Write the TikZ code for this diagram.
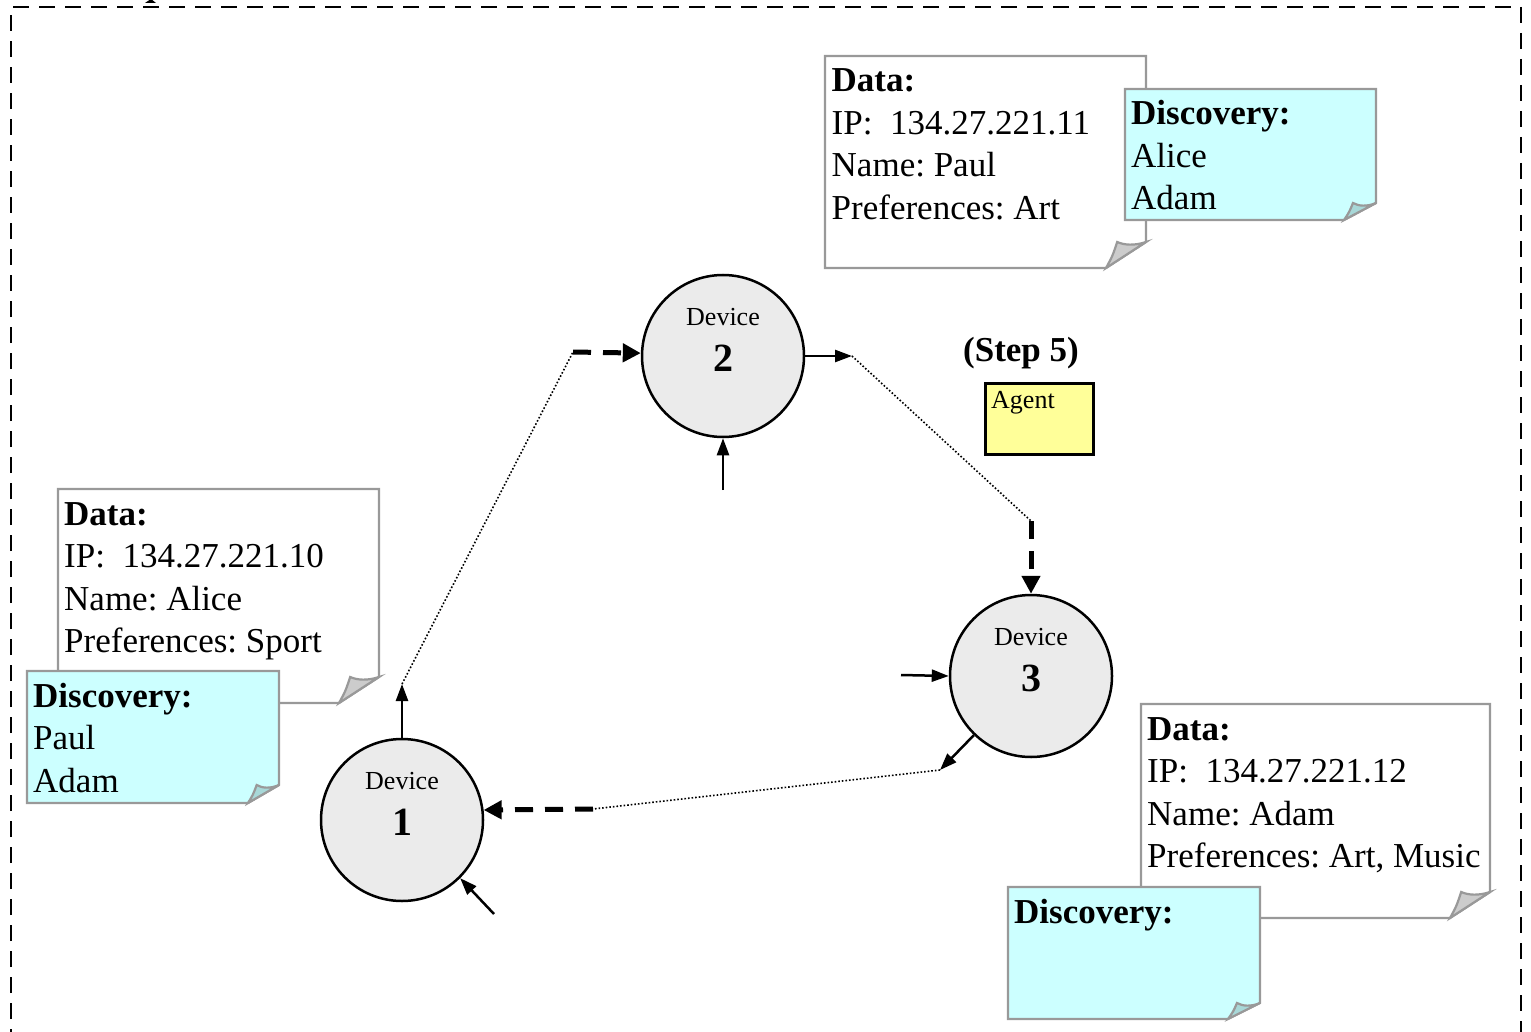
\documentclass[tikz,border=0pt]{standalone}
\usepackage{fontspec}
\setmainfont{Liberation Serif}
\usetikzlibrary{arrows.meta}
\frenchspacing

\definecolor{notecyan}{HTML}{CCFFFF}
\definecolor{foldcyan}{HTML}{A8D8D8}
\definecolor{foldgray}{HTML}{CCCCCC}
\definecolor{noteedge}{HTML}{999999}
\definecolor{devfill}{HTML}{EBEBEB}
\definecolor{agentfill}{HTML}{FFFF99}

% sticky note with a curled lower-right corner
% #1,#2 top-left  #3,#4 bottom-right  #5,#6 corner cut  #7 paper  #8 curl
\newcommand\stickynote[8]{%
  \filldraw[notebody, fill=#7] (#1,#2) -- (#3,#2) -- (#3,#4-#6) -- (#3-#5,#4) -- (#1,#4) -- cycle;
  \filldraw[notebody, fill=#8] (#3,#4-#6)
     .. controls (#3-0.3*#5,#4-#6+4) and (#3-0.55*#5,#4-#6+3) .. (#3-0.72*#5,#4-#6)
     .. controls (#3-0.84*#5,#4-0.45*#6) .. (#3-#5,#4) -- cycle;
}

\tikzset{
  notebody/.style={draw=noteedge, line width=2.2pt, line join=miter},
  device/.style={circle, draw, line width=2.5pt, fill=devfill, minimum size=162pt, inner sep=0pt},
  devword/.style={font=\fontsize{26}{30}\selectfont, anchor=base, inner sep=0pt},
  devnum/.style={font=\bfseries\fontsize{40}{46}\selectfont, anchor=base, inner sep=0pt},
  notetext/.style={font=\fontsize{35}{42}\selectfont, anchor=base west, inner sep=0pt},
  notehead/.style={font=\bfseries\fontsize{35}{42}\selectfont, anchor=base west, inner sep=0pt},
  thinarrow/.style={line width=2.5pt, -{Triangle[length=17pt,width=12pt]}},
  flowarrow/.style={line width=5pt, dash pattern=on 18pt off 12pt, -{Triangle[length=18pt,width=18pt]}},
  hop/.style={line width=1.6pt, dash pattern=on 1.6pt off 2pt},
  frame/.style={line width=2.5pt, dash pattern=on 16pt off 10pt},
  agentbox/.style={draw, line width=2.5pt, fill=agentfill, anchor=north west,
    minimum width=108pt, minimum height=71pt, inner sep=0pt},
}

\begin{document}
\begin{tikzpicture}[x=1pt,y=-1pt]
\useasboundingbox (0,0) rectangle (1531,1032);

% outer dashed frame
\draw[frame] (11,1045) -- (11,7) -- (1521,7) -- (1521,1045);
\fill (145,3) -- (156,3) -- (151,-1) -- cycle;

% notes of device 1
\stickynote{58}{489}{379}{703}{40}{26}{white}{foldgray}
\node[notehead] (c1) at (64,525) {Data:};
\node[notetext] (c2) at (64,567.5) {IP:~ 134.27.221.10};
\node[notetext] (c3) at (64,610) {Name: Alice};
\node[notetext] (c4) at (64,652.5) {Preferences: Sport};
\stickynote{27}{671}{279}{803}{31}{18}{notecyan}{foldcyan}
\node[notehead] (d1) at (33,707) {Discovery:};
\node[notetext] (d2) at (33,749.5) {Paul};
\node[notetext] (d3) at (33,792) {Adam};

% notes of device 2
\stickynote{825}{56}{1146}{268}{40}{26}{white}{foldgray}
\node[notehead] (a1) at (831.5,92) {Data:};
\node[notetext] (a2) at (831.5,134.5) {IP:~ 134.27.221.11};
\node[notetext] (a3) at (831.5,177) {Name: Paul};
\node[notetext] (a4) at (831.5,219.5) {Preferences: Art};
\stickynote{1125}{89}{1376}{220}{32}{17}{notecyan}{foldcyan}
\node[notehead] (b1) at (1131,125) {Discovery:};
\node[notetext] (b2) at (1131,167.5) {Alice};
\node[notetext] (b3) at (1131,210) {Adam};

% notes of device 3
\stickynote{1141}{704}{1490}{918}{40}{26}{white}{foldgray}
\node[notehead] (e1) at (1147,740) {Data:};
\node[notetext] (e2) at (1147,782.5) {IP:~ 134.27.221.12};
\node[notetext] (e3) at (1147,825) {Name: Adam};
\node[notetext] (e4) at (1147,867.5) {Preferences: Art, Music};
\stickynote{1008}{887}{1260}{1019}{32}{16}{notecyan}{foldcyan}
\node[notehead] (f1) at (1014,923) {Discovery:};

% devices
\node[device] (dev1) at (402,820) {};
\node[devword] (dev1w) at (402,789) {Device};
\node[devnum] (dev1n) at (402,835) {1};
\node[device] (dev2) at (723,356) {};
\node[devword] (dev2w) at (723,325) {Device};
\node[devnum] (dev2n) at (723,371) {2};
\node[device] (dev3) at (1031,676) {};
\node[devword] (dev3w) at (1031,645) {Device};
\node[devnum] (dev3n) at (1031,691) {3};

% agent
\node[font=\bfseries\fontsize{35}{42}\selectfont, anchor=base, inner sep=0pt] (step) at (1021,361) {(Step 5)};
\node[agentbox] (agent) at (984,382) {};
\node[devword, anchor=base west] (agentw) at (991,408) {Agent};

% route of the agent
\coordinate (j1a) at (402,684);
\coordinate (j1b) at (573,352);
\coordinate (j2a) at (852,356);
\coordinate (j2b) at (1031,521);
\coordinate (j3a) at (940,770);
\coordinate (j3b) at (593,809);
\coordinate (in1) at (494,914);
\coordinate (in2) at (723,490);
\coordinate (in3) at (901,675);

\draw[thinarrow] (dev1.north) -- (j1a);
\draw[hop] (j1a) -- (j1b);
\draw[flowarrow] (j1b) -- (dev2.178);

\draw[thinarrow] (dev2.east) -- (j2a);
\draw[hop] (j2a) -- (j2b);
\draw[flowarrow] (j2b) -- (dev3.north);

\draw[thinarrow] (dev3.226) -- (j3a);
\draw[hop] (j3a) -- (j3b);
\draw[flowarrow] (j3b) -- (dev1.7);

% incoming agents
\draw[thinarrow] (in1) -- (dev1.315);
\draw[thinarrow] (in2) -- (dev2.south);
\draw[thinarrow] (in3) -- (dev3.west);
\end{tikzpicture}
\end{document}
